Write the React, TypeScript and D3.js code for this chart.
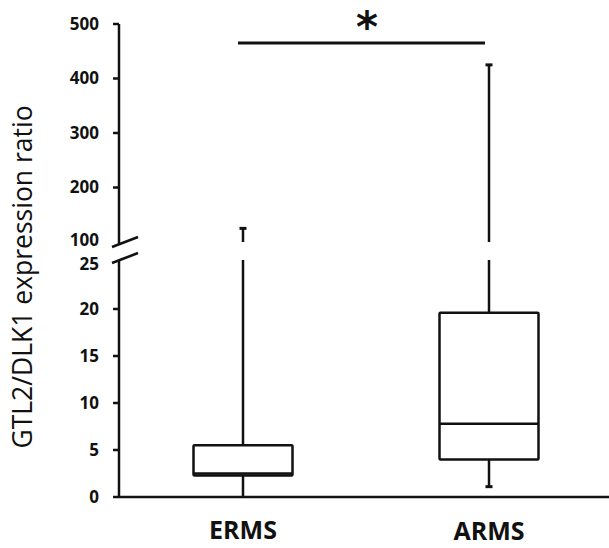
import React from 'react';
import * as d3 from 'd3';

// box stats
const categories = ['ERMS', 'ARMS'];
const mins = [0, 1.1];
const q1s = [2.3, 4.0];
const medians = [2.5, 7.8];
const q3s = [5.5, 19.6];
const maxs = [125, 425];

const lowTicks = [0, 5, 10, 15, 20, 25];
const highTicks = [100, 200, 300, 400, 500];

const W = 609;
const H = 548;
const axisX = 119;
const font = '"Open Sans", Lato, sans-serif';

const App = () => {
  // broken y axis: two linear pieces
  const yLo = d3.scaleLinear().domain([0, 25]).range([497, 262]);
  const yHi = d3.scaleLinear().domain([100, 500]).range([242, 24]);
  const x = d3.scalePoint().domain(categories).range([243, 489]);
  const boxW = 99;
  const capW = 7;

  const yVal = (v: number) => (v <= 25 ? yLo(v) : yHi(v));

  return (
    <div style={{ position: 'absolute', left: 0, top: 0 }}>
      <svg width={W} height={H} style={{ display: 'block', background: '#fff' }}>
        {/* y label */}
        <text
          transform={`translate(32, 277) rotate(-90)`}
          textAnchor="middle"
          fontFamily={font}
          fontSize={26.5}
          fill="#111"
        >
          GTL2/DLK1 expression ratio
        </text>

        {/* axis lines */}
        <line x1={axisX} x2={axisX} y1={yHi(500)} y2={yHi(100) + 2} stroke="#111" strokeWidth={2.5} />
        <line x1={axisX} x2={axisX} y1={yLo(25) - 2} y2={yLo(0)} stroke="#111" strokeWidth={2.5} />
        <line x1={axisX} x2={W} y1={yLo(0)} y2={yLo(0)} stroke="#111" strokeWidth={2.5} />

        {/* break marks */}
        <line x1={112} y1={yHi(100) + 5} x2={138} y2={yHi(100) - 5} stroke="#111" strokeWidth={2.5} />
        <line x1={112} y1={yLo(25) + 1} x2={138} y2={yLo(25) - 9} stroke="#111" strokeWidth={2.5} />

        {/* ticks */}
        {highTicks.map((t) => (
          <g key={'h' + t}>
            {t !== 100 && (
              <line x1={axisX - 6} x2={axisX} y1={yHi(t)} y2={yHi(t)} stroke="#111" strokeWidth={2.5} />
            )}
            <text x={99} y={yHi(t) - (t === 100 ? 2 : 0)} dy="0.35em" textAnchor="end" fontFamily={font} fontWeight="bold" fontSize={17} fill="#111">
              {t}
            </text>
          </g>
        ))}
        {lowTicks.map((t) => (
          <g key={'l' + t}>
            {t !== 25 && (
              <line x1={axisX - 6} x2={axisX} y1={yLo(t)} y2={yLo(t)} stroke="#111" strokeWidth={2.5} />
            )}
            <text x={99} y={yLo(t) + (t === 25 ? 2 : 0)} dy="0.35em" textAnchor="end" fontFamily={font} fontWeight="bold" fontSize={17} fill="#111">
              {t}
            </text>
          </g>
        ))}

        {/* boxes */}
        {categories.map((c, i) => {
          const cx = x(c)!;
          const hasBreak = maxs[i] > 25;
          return (
            <g key={c}>
              {/* upper whisker */}
              <line x1={cx} x2={cx} y1={yLo(q3s[i])} y2={hasBreak ? yLo(25) - 2 : yVal(maxs[i])} stroke="#111" strokeWidth={2.5} />
              {hasBreak && (
                <line x1={cx} x2={cx} y1={yHi(100)} y2={yHi(maxs[i])} stroke="#111" strokeWidth={2.5} />
              )}
              <line x1={cx - capW / 2} x2={cx + capW / 2} y1={yVal(maxs[i])} y2={yVal(maxs[i])} stroke="#111" strokeWidth={3} />
              {/* lower whisker */}
              <line x1={cx} x2={cx} y1={yLo(q1s[i])} y2={yLo(mins[i])} stroke="#111" strokeWidth={2.5} />
              {mins[i] > 0 && (
                <line x1={cx - capW / 2} x2={cx + capW / 2} y1={yLo(mins[i])} y2={yLo(mins[i])} stroke="#111" strokeWidth={3} />
              )}
              {/* box */}
              <rect
                x={cx - boxW / 2}
                y={yLo(q3s[i])}
                width={boxW}
                height={yLo(q1s[i]) - yLo(q3s[i])}
                fill="#fff"
                stroke="#111"
                strokeWidth={2.5}
                rx={1}
              />
              <line x1={cx - boxW / 2} x2={cx + boxW / 2} y1={yLo(medians[i])} y2={yLo(medians[i])} stroke="#111" strokeWidth={2.5} />
              {/* category label */}
              <text x={cx} y={i === 0 ? 539 : 540} textAnchor="middle" fontFamily={font} fontWeight="bold" fontSize={25} fill="#111">
                {c}
              </text>
            </g>
          );
        })}

        {/* significance bar */}
        <line x1={x('ERMS')! - 5} x2={x('ARMS')! - 4} y1={43} y2={43} stroke="#111" strokeWidth={3} />
        <text x={367} y={42} textAnchor="middle" fontFamily='"DejaVu Sans", sans-serif' fontWeight="bold" fontSize={42} fill="#111">
          *
        </text>
      </svg>
    </div>
  );
};

export default App;
